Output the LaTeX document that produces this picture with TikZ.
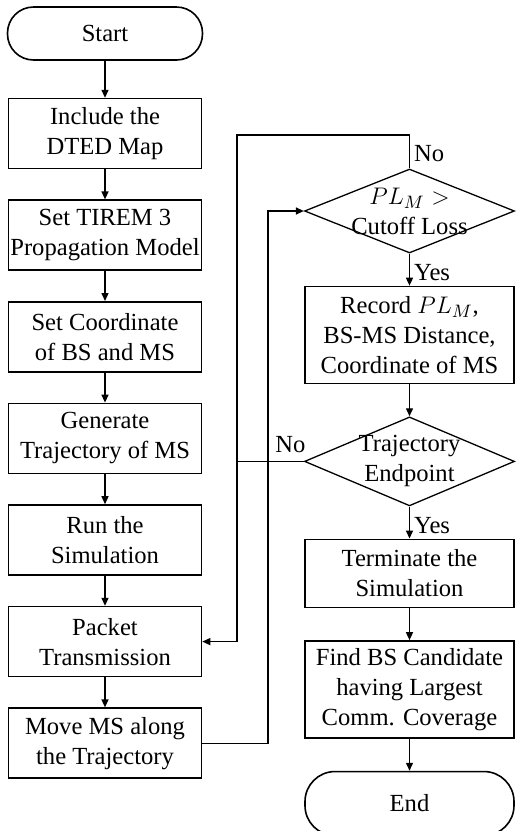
\documentclass[tikz,border=0pt]{standalone}
\usepackage{fontspec}
\setmainfont{Liberation Serif}
\usetikzlibrary{arrows.meta,positioning,shapes.geometric}

\begin{document}
\begin{tikzpicture}[node distance=15pt,
    every node/.style={font=\fontsize{12.3pt}{15pt}\selectfont},
    box/.style={draw, line width=0.8pt, align=center, inner xsep=0pt, inner ysep=0pt, minimum width=96.5pt, minimum height=35pt},
    rbox/.style={box, minimum width=104.5pt},
    term/.style={box, rounded corners=13pt},
    decision/.style={draw, diamond, line width=0.65pt, inner sep=0pt, minimum width=105pt},
    dtext/.style={align=center, inner sep=0pt},
    arr/.style={-{Triangle[length=4pt,width=3.5pt]}, line width=0.7pt},
    line/.style={line width=0.7pt},
    lbl/.style={inner sep=2pt}]
    \useasboundingbox (0,0) rectangle (257.5pt,-415.5pt);
    % left column
    \node[term, minimum width=97.5pt, minimum height=26.5pt] (start) at (52.5pt,-16.75pt) {Start};
    \node[box, below=18.5pt of start] (dted) {Include the\\DTED Map};
    \node[box, below=of dted] (tirem) {Set TIREM 3\\Propagation Model};
    \node[box, below=of tirem] (coord) {Set Coordinate\\of BS and MS};
    \node[box, below=of coord] (traj) {Generate\\Trajectory of MS};
    \node[box, below=of traj] (run) {Run the\\Simulation};
    \node[box, below=of run] (packet) {Packet\\Transmission};
    \node[box, below=of packet] (move) {Move MS along\\the Trajectory};
    % right column
    \node[decision, minimum height=42pt] (loss) at (204.75pt,-105.5pt) {};
    \node[dtext] (losstxt) at (loss) {$PL_M >$\\Cutoff Loss};
    \node[rbox, minimum height=48.5pt, below=16pt of loss] (record) {Record $PL_M$,\\BS-MS Distance,\\Coordinate of MS};
    \node[decision, minimum height=44.5pt, below=16pt of record] (endp) {};
    \node[dtext] (endptxt) at (endp) {Trajectory\\Endpoint};
    \node[rbox, minimum height=34pt, below=16pt of endp] (stop) {Terminate the\\Simulation};
    \node[rbox, minimum height=48.5pt, below=16pt of stop] (find) {Find BS Candidate\\having Largest\\Comm. Coverage};
    \node[term, rounded corners=15pt, minimum width=104.5pt, minimum height=32pt, below=16pt of find] (end) {End};
    \coordinate (loopa) at (118.5pt,-67.5pt);
    \coordinate (loopb) at (134pt,0pt);
    \draw[arr] (start) -- (dted);
    \draw[arr] (dted) -- (tirem);
    \draw[arr] (tirem) -- (coord);
    \draw[arr] (coord) -- (traj);
    \draw[arr] (traj) -- (run);
    \draw[arr] (run) -- (packet);
    \draw[arr] (packet) -- (move);
    \draw[arr] (move.east) -| (loopb |- loss.west) -- (loss.west);
    \draw[arr] (loss.north) -- node[lbl, right, pos=0.45] {No} (loss.north |- loopa) -- (loopa) |- (packet.east);
    \draw[arr] (loss.south) -- node[lbl, right, pos=0.6] {Yes} (record);
    \draw[arr] (record) -- (endp);
    \draw[line] (endp.west) -- node[lbl, above, pos=0.2, yshift=2pt] {No} (endp.west -| loopa);
    \draw[arr] (endp.south) -- node[lbl, right, pos=0.6] {Yes} (stop);
    \draw[arr] (stop) -- (find);
    \draw[arr] (find) -- (end);
\end{tikzpicture}
\end{document}
